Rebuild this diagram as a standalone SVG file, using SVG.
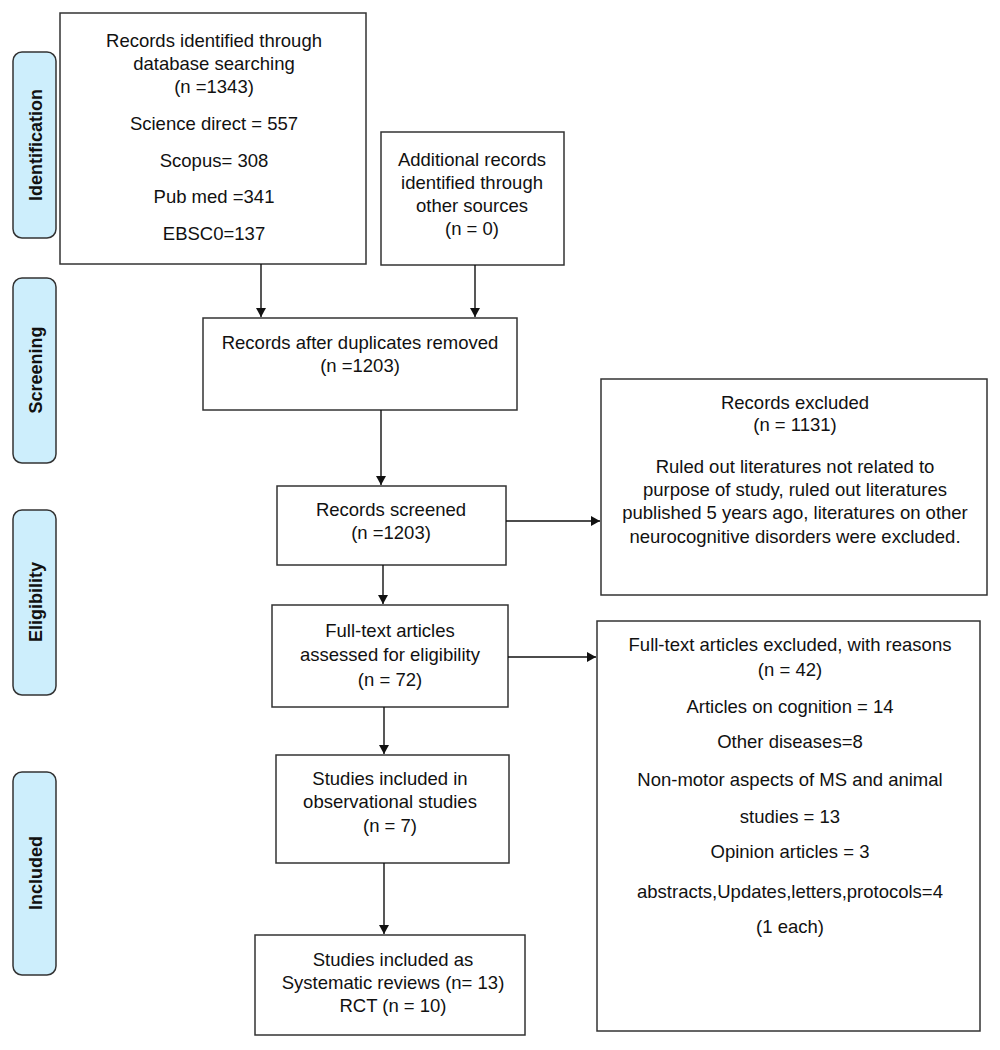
<svg xmlns="http://www.w3.org/2000/svg" width="1000" height="1050" viewBox="0 0 1000 1050">
<defs>
<marker id="ah" markerWidth="9" markerHeight="10" refX="9" refY="5" orient="auto" markerUnits="userSpaceOnUse">
<path d="M0,0 L9,5 L0,10 z" fill="#111"/>
</marker>
<style>
.box{fill:#fff;stroke:#333;stroke-width:1.5}
.lab{fill:#cdeefc;stroke:#333;stroke-width:1.5}
.t{font-family:"Liberation Sans",Arial,sans-serif;font-size:18.5px;fill:#111;text-anchor:middle}
.lt{font-family:"Liberation Sans",Arial,sans-serif;font-size:18px;font-weight:bold;fill:#111;text-anchor:middle}
.c{stroke:#111;stroke-width:1.4;fill:none;marker-end:url(#ah)}
</style>
</defs>
<rect width="1000" height="1050" fill="#fff"/>
<g id="stage-identification"><rect class="lab" x="13" y="52" width="43" height="186" rx="9"/><text class="lt" transform="translate(42,145) rotate(-90)">Identification</text></g>
<g id="stage-screening"><rect class="lab" x="13" y="278" width="43" height="185" rx="9"/><text class="lt" transform="translate(42,370) rotate(-90)">Screening</text></g>
<g id="stage-eligibility"><rect class="lab" x="13" y="510" width="43" height="185" rx="9"/><text class="lt" transform="translate(42,602) rotate(-90)">Eligibility</text></g>
<g id="stage-included"><rect class="lab" x="13" y="772" width="43" height="203" rx="9"/><text class="lt" transform="translate(42,873) rotate(-90)">Included</text></g>

<g id="db-records"><rect class="box" x="60" y="13" width="306" height="251"/>
<text class="t" x="214" y="47">Records identified through</text>
<text class="t" x="214" y="70">database searching</text>
<text class="t" x="214" y="93">(n =1343)</text>
<text class="t" x="214" y="130">Science direct = 557</text>
<text class="t" x="214" y="167">Scopus= 308</text>
<text class="t" x="214" y="203">Pub med =341</text>
<text class="t" x="214" y="240">EBSC0=137</text></g>

<g id="other-records"><rect class="box" x="381" y="132" width="183" height="133"/>
<text class="t" x="472" y="166">Additional records</text>
<text class="t" x="472" y="189">identified through</text>
<text class="t" x="472" y="212">other sources</text>
<text class="t" x="472" y="235">(n = 0)</text></g>

<g id="after-duplicates"><rect class="box" x="203" y="318" width="314" height="92"/>
<text class="t" x="360" y="349">Records after duplicates removed</text>
<text class="t" x="360" y="372">(n =1203)</text></g>

<g id="screened"><rect class="box" x="277" y="486" width="229" height="79"/>
<text class="t" x="391" y="516">Records screened</text>
<text class="t" x="391" y="539">(n =1203)</text></g>

<g id="excluded"><rect class="box" x="601" y="379" width="386" height="216"/>
<text class="t" x="795" y="409">Records excluded</text>
<text class="t" x="795" y="431">(n = 1131)</text>
<text class="t" x="795" y="473">Ruled out literatures not related to</text>
<text class="t" x="795" y="496">purpose of study, ruled out literatures</text>
<text class="t" x="795" y="519">published 5 years ago, literatures on other</text>
<text class="t" x="795" y="543">neurocognitive disorders were excluded.</text></g>

<g id="fulltext"><rect class="box" x="272" y="605" width="236" height="102"/>
<text class="t" x="390" y="637">Full-text articles</text>
<text class="t" x="390" y="661">assessed for eligibility</text>
<text class="t" x="390" y="686">(n = 72)</text></g>

<g id="fulltext-excluded"><rect class="box" x="597" y="621" width="383" height="410"/>
<text class="t" x="790" y="651">Full-text articles excluded, with reasons</text>
<text class="t" x="790" y="676">(n = 42)</text>
<text class="t" x="790" y="713">Articles on cognition = 14</text>
<text class="t" x="790" y="748">Other diseases=8</text>
<text class="t" x="790" y="786">Non-motor aspects of MS and animal</text>
<text class="t" x="790" y="823">studies = 13</text>
<text class="t" x="790" y="858">Opinion articles = 3</text>
<text class="t" x="790" y="898">abstracts,Updates,letters,protocols=4</text>
<text class="t" x="790" y="933">(1 each)</text></g>

<g id="observational"><rect class="box" x="276" y="755" width="233" height="108"/>
<text class="t" x="390" y="785">Studies included in</text>
<text class="t" x="390" y="808">observational studies</text>
<text class="t" x="390" y="832">(n = 7)</text></g>

<g id="systematic"><rect class="box" x="255" y="935" width="270" height="100"/>
<text class="t" x="393" y="966">Studies included as</text>
<text class="t" x="393" y="989">Systematic reviews (n= 13)</text>
<text class="t" x="393" y="1012">RCT (n = 10)</text></g>

<g id="connectors">
<line class="c" x1="261" y1="264" x2="261" y2="317"/>
<line class="c" x1="475" y1="265" x2="475" y2="317"/>
<line class="c" x1="381" y1="410" x2="381" y2="485"/>
<line class="c" x1="506" y1="521" x2="600" y2="521"/>
<line class="c" x1="383" y1="565" x2="383" y2="604"/>
<line class="c" x1="508" y1="657" x2="596" y2="657"/>
<line class="c" x1="384" y1="707" x2="384" y2="754"/>
<line class="c" x1="384" y1="863" x2="384" y2="934"/>
</g>
</svg>
